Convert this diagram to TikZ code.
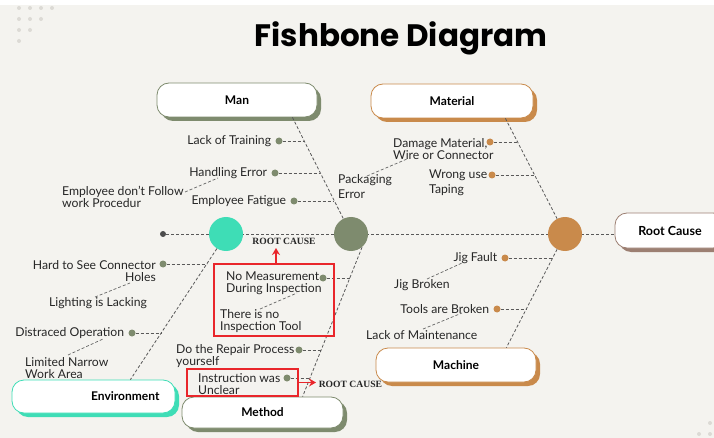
\documentclass[tikz,border=0pt]{standalone}
\usepackage{fontspec}
\setmainfont{Lato}
\newfontfamily\titlefont{Poppins}
\newfontfamily\capsserif{Liberation Serif}
\usetikzlibrary{arrows.meta, positioning, calc}
\definecolor{bgpaper}{HTML}{F4F3EF}
\definecolor{dotgrey}{HTML}{DCDAD5}
\definecolor{sage}{HTML}{7E8B6E}
\definecolor{copper}{HTML}{C98A4B}
\definecolor{mint}{HTML}{3EDDB6}
\definecolor{mocha}{HTML}{9C7F72}
\definecolor{inkgrey}{HTML}{262626}
\definecolor{alertred}{HTML}{E9262B}
\newcommand{\labelfont}{\fontsize{12.2}{12}\selectfont}
\newcommand{\catfont}{\bfseries\fontsize{12}{13}\selectfont}
\newcommand{\rcfont}{\capsserif\bfseries\fontsize{9.6}{10}\selectfont}

\begin{document}
\begin{tikzpicture}[x=1pt, y=-1pt,
  bone/.style={draw=black!65, line width=0.8pt, dash pattern=on 3pt off 2pt},
  twig/.style={draw=black!60, line width=0.7pt, dash pattern=on 3pt off 2pt},
  lbl/.style={font=\labelfont, text=inkgrey, inner sep=0pt, align=left},
  knob/.style={circle, fill=#1, inner sep=0pt, minimum size=7pt},
  hub/.style={circle, fill=#1, inner sep=0pt, minimum size=34pt},
  catbox/.style={draw=#1, fill=white, line width=0.8pt, rounded corners=12pt,
    minimum width=160pt, minimum height=34pt, font=\catfont, text=black,
    preaction={fill=#1, transform canvas={xshift=4pt, yshift=-4pt}}},
  redframe/.style={draw=alertred, line width=2pt, inner sep=0pt},
  redarrow/.style={draw=alertred, line width=1.6pt, -{Stealth[length=7pt, width=8pt]}},
  rclbl/.style={font=\rcfont, text=black!85, inner sep=0pt}]

  % background
  \useasboundingbox (0,0) rectangle (714,438);
  \fill[white] (0,0) rectangle (714,5);
  \fill[bgpaper] (0,5) rectangle (714,438);
  \foreach \row/\n in {0/4, 1/3, 2/2, 3/1}
    \foreach \k in {1,...,\n}
      \fill[dotgrey] ({8+11*\k}, {8+11*\row}) circle (2pt);
  \foreach \p in {(710,423), (699,434), (710,434)}
    \fill[dotgrey] \p circle (2pt);

  % title
  \node[font=\titlefont\bfseries\fontsize{31}{34}\selectfont] (title) at (401,38) {Fishbone Diagram};

  % spine
  \node[knob=black!70, minimum size=6pt] (tail) at (163,234) {};
  \node[catbox=mocha, minimum width=110pt, minimum height=35pt, font=\bfseries\fontsize{12.5}{14}\selectfont] (root) at (670,230.5) {Root Cause};
  \draw[bone] (tail) -- (tail -| root.west);
  \node[hub=mint] (hubenv) at (226,234) {};
  \node[hub=sage] (hubman) at (351,234) {};
  \node[hub=copper] (hubmat) at (565,234) {};

  % categories
  \node[catbox=sage] (man) at (237,100) {Man};
  \node[catbox=copper, minimum width=162pt] (material) at (452,101) {Material};
  \node[catbox=copper] (machine) at (456,365) {Machine};
  \node[catbox=mint, minimum width=163pt, minimum height=33pt, text width=132pt, align=right] (environment) at (93.5,396.5) {Environment};
  \node[catbox=sage, minimum width=161pt, minimum height=31pt] (method) at (262.5,412.5) {Method};

  % bones
  \draw[bone] ([xshift=-25pt]man.south east) -- (hubman);
  \draw[bone] ([xshift=-28pt]material.south east) -- (hubmat);
  \draw[bone] (hubmat) -- ([xshift=-30pt]machine.north east);
  \draw[bone] (hubman.-50) -- ([xshift=121pt]method.north west);
  \draw[bone] (hubenv.-122) -- ([xshift=-45pt]environment.north east);

  % joints on the bones
  \coordinate (manA) at (304.1,141);
  \coordinate (manB) at (320.2,173);
  \coordinate (manC) at (334.3,201);
  \coordinate (matA) at (517.4,142);
  \coordinate (matB) at (534.5,175);
  \coordinate (macA) at (552.6,258);
  \coordinate (macB) at (526.2,309);
  \coordinate (metA) at (349.7,278);
  \coordinate (metB) at (321.5,350);
  \coordinate (metC) at (310.5,378);
  \coordinate (envA) at (206.7,264);
  \coordinate (envB) at (161.1,333);

  % Man
  \node[knob=sage] (lackdot) at (279,141) {};
  \node[lbl, left=4pt of lackdot] (lack) {Lack of Training};
  \node[knob=sage] (handdot) at (275,173) {};
  \node[lbl, left=4pt of handdot] (hand) {Handling Error};
  \node[knob=sage] (fatdot) at (294,201) {};
  \node[lbl, left=4pt of fatdot] (fatigue) {Employee Fatigue};
  \node[lbl, anchor=west] (follow) at (62,197) {Employee don’t Follow\\work Procedur};
  \draw[bone] (lackdot) -- (manA);
  \draw[bone] (handdot) -- (manB);
  \draw[bone] (fatdot) -- (manC);
  \coordinate (followA) at (185,192);
  \coordinate (followB) at (218,178);
  \draw[twig] (followA) -- (followB);

  % Material
  \node[knob=copper] (dmgdot) at (490,142) {};
  \node[lbl, anchor=west] (damage) at (393,149) {Damage Material,\\Wire or Connector};
  \node[knob=copper] (wrongdot) at (492,175) {};
  \node[lbl, anchor=west] (wrong) at (429,183) {Wrong use\\[3pt]Taping};
  \node[lbl, anchor=west] (packing) at (338,187) {Packaging\\[3pt]Error};
  \draw[bone] (dmgdot) -- (matA);
  \draw[bone] (wrongdot) -- (matB);
  \coordinate (packA) at (367,176);
  \coordinate (packB) at (407,159);
  \draw[twig] (packA) -- (packB);

  % Machine
  \node[knob=copper] (jigdot) at (505,258) {};
  \node[lbl, left=4pt of jigdot] (jig) {Jig Fault};
  \node[lbl, anchor=west] (jigbrk) at (394,285) {Jig Broken};
  \node[knob=copper] (tooldot) at (497,309) {};
  \node[lbl, left=4pt of tooldot] (tools) {Tools are Broken};
  \node[lbl, anchor=west] (maint) at (366,335) {Lack of Maintenance};
  \draw[bone] (jigdot) -- (macA);
  \draw[bone] (tooldot) -- (macB);
  \coordinate (jigA) at (427,279);
  \coordinate (jigB) at (462,263);
  \draw[twig] (jigA) -- (jigB);
  \coordinate (toolA) at (423,329);
  \coordinate (toolB) at (462,313);
  \draw[twig] (toolA) -- (toolB);

  % Environment
  \node[knob=sage] (holedot) at (163,264) {};
  \node[lbl, align=right, anchor=east] (holes) at (156,271) {Hard to See Connector\\Holes};
  \node[lbl, anchor=west] (light) at (49,303) {Lighting is Lacking};
  \node[knob=sage] (distdot) at (132,333) {};
  \node[lbl, left=4pt of distdot] (distract) {Distraced Operation};
  \node[lbl, anchor=west] (narrow) at (25,368) {Limited Narrow\\Work Area};
  \draw[bone] (holedot) -- (envA);
  \draw[bone] (distdot) -- (envB);
  \coordinate (lightA) at (95,297);
  \coordinate (lightB) at (130,283);
  \draw[twig] (lightA) -- (lightB);
  \coordinate (narrowA) at (68,355);
  \coordinate (narrowB) at (103,339);
  \draw[twig] (narrowA) -- (narrowB);

  % Method
  \node[knob=sage] (measdot) at (323,278) {};
  \node[lbl, anchor=west] (measure) at (226,283) {No Measurement\\During Inspection};
  \node[lbl, anchor=west] (notool) at (220,321) {There is no\\Inspection Tool};
  \node[knob=sage] (repdot) at (299,350) {};
  \node[lbl, anchor=west] (repair) at (176,356) {Do the Repair Process\\yourself};
  \node[knob=sage] (instdot) at (287,378) {};
  \node[lbl, anchor=west] (instruct) at (198,384) {Instruction was\\Unclear};
  \draw[bone] (measdot) -- (metA);
  \draw[bone] (repdot) -- (metB);
  \draw[bone] (instdot) -- (metC);
  \coordinate (toolsA) at (260,309);
  \coordinate (toolsB) at (297,293);
  \draw[twig] (toolsA) -- (toolsB);

  % root causes
  \node[redframe, minimum width=120pt, minimum height=72pt] (rcbox1) at (274,300) {};
  \node[redframe, minimum width=111pt, minimum height=27pt] (rcbox2) at (242.5,382.5) {};
  \node[rclbl] (rc1) at (284,241) {ROOT CAUSE};
  \draw[redarrow] ([xshift=2pt]rcbox1.north) -- ++(0,-15);
  \draw[redarrow] (rcbox2.east) -- ++(17,0) node[rclbl, right=2pt, yshift=-2pt] (rc2) {ROOT CAUSE};
\end{tikzpicture}
\end{document}
